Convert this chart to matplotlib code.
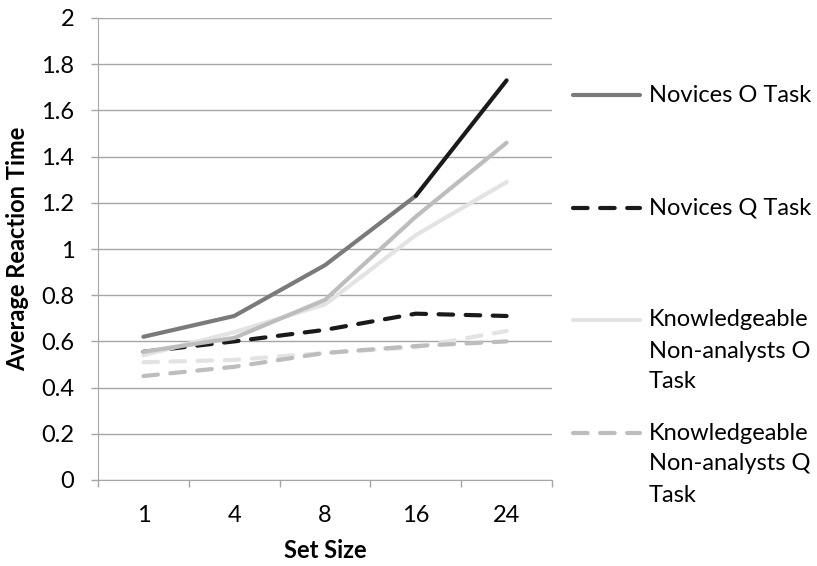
import matplotlib.pyplot as plt
from matplotlib.lines import Line2D
import numpy as np

plt.rcParams['font.family'] = ['Lato', 'DejaVu Sans']

set_sizes = ['1', '4', '8', '16', '24']

novices_o = [0.62, 0.71, 0.93, 1.23, 1.73]
novices_q = [0.555, 0.60, 0.65, 0.72, 0.71]
know_o = [0.54, 0.64, 0.76, 1.06, 1.29]
know_q = [0.45, 0.49, 0.55, 0.58, 0.60]
# two series without a legend entry in the reference
other_o = [0.555, 0.615, 0.78, 1.14, 1.46]
other_q = [0.51, 0.52, 0.55, 0.575, 0.645]

c_dark = '#7a7a7a'
c_black = '#1a1a1a'
c_mid = '#bdbdbd'
c_light = '#e3e3e3'
grid_c = '#a6a6a6'
lw = 3
dash = (3.5, 3)
fs = 17

fig = plt.figure(figsize=(8.17, 5.66), dpi=100)
ax = fig.add_axes([98/817, 86/566, 454/817, 462/566])

x = np.arange(len(set_sizes))

ax.plot(x, other_q, color=c_light, lw=lw, dashes=dash, dash_capstyle='round')
ax.plot(x, know_q, color=c_mid, lw=lw, dashes=dash, dash_capstyle='round')
ax.plot(x, novices_q, color=c_black, lw=lw, dashes=dash, dash_capstyle='round')
ax.plot(x, know_o, color=c_light, lw=lw, solid_capstyle='round')
ax.plot(x, other_o, color=c_mid, lw=lw, solid_capstyle='round')
ax.plot(x[:4], novices_o[:4], color=c_dark, lw=lw, solid_capstyle='round')
ax.plot(x[3:], novices_o[3:], color=c_black, lw=lw, solid_capstyle='round')

ax.set_xlim(-0.5, 4.5)
ax.set_ylim(0, 2)
ax.set_yticks(np.arange(0, 2.01, 0.2))
ax.set_yticklabels(['0', '0.2', '0.4', '0.6', '0.8', '1', '1.2', '1.4', '1.6', '1.8', '2'])
ax.set_xticks(x)
ax.set_xticklabels(set_sizes)
ax.set_xticks(np.arange(-0.5, 4.6, 1), minor=True)
ax.tick_params(axis='x', which='major', length=0, pad=18, labelsize=fs)
ax.tick_params(axis='x', which='minor', length=5, color=grid_c, width=1)
ax.tick_params(axis='y', length=5, color=grid_c, width=1, pad=12, labelsize=fs)
ax.grid(axis='y', color=grid_c, lw=1)
ax.set_axisbelow(True)
for s in ['top', 'right']:
    ax.spines[s].set_visible(False)
ax.spines['left'].set_color(grid_c)
ax.spines['bottom'].set_color(grid_c)

ax.set_xlabel('Set Size', fontsize=fs, fontweight='bold', labelpad=9)
ax.set_ylabel('Average Reaction Time', fontsize=fs, fontweight='bold', labelpad=9)

# legend placed like the reference (spaced entries)
legend_items = [
    ('Novices O Task', c_dark, None, 95),
    ('Novices Q Task', c_black, dash, 208),
    ('Knowledgeable\nNon-analysts O\nTask', c_light, None, 320),
    ('Knowledgeable\nNon-analysts Q\nTask', c_mid, dash, 433),
]
H = 566
for label, col, ds, ypx in legend_items:
    yf = 1 - ypx / H
    kw = dict(dashes=ds, dash_capstyle='round') if ds else dict(solid_capstyle='round')
    fig.add_artist(Line2D([573/817, 640/817], [yf, yf], color=col, lw=lw,
                          transform=fig.transFigure, **kw))
    for i, line in enumerate(label.split('\n')):
        fig.text(649/817, 1 - (ypx + i * 31) / H, line, fontsize=fs, va='center', ha='left')

fig.savefig('out.png', dpi=100)
